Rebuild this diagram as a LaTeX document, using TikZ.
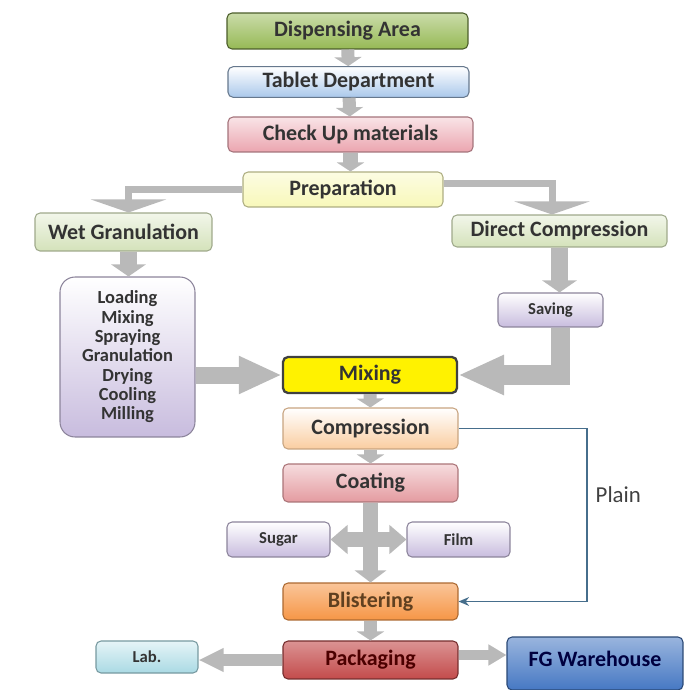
\documentclass[tikz,border=0pt]{standalone}
\usepackage{fontspec}
\setmainfont{Carlito}
\usepackage{tikz}
\usetikzlibrary{positioning,arrows.meta}
\definecolor{dispgreen}{RGB}{150,185,85}
\definecolor{tabblue}{RGB}{170,200,235}
\definecolor{checkpink}{RGB}{235,165,175}
\definecolor{prepyellow}{RGB}{248,248,185}
\definecolor{routegreen}{RGB}{212,226,186}
\definecolor{lavender}{RGB}{200,188,222}
\definecolor{peach}{RGB}{250,205,160}
\definecolor{coatpink}{RGB}{228,155,160}
\definecolor{blistorange}{RGB}{246,150,70}
\definecolor{packred}{RGB}{195,75,75}
\definecolor{labcyan}{RGB}{170,218,228}
\definecolor{fgblue}{RGB}{70,120,195}
\definecolor{plainblue}{RGB}{70,110,140}

\begin{document}
\begin{tikzpicture}[x=0.02cm, y=-0.02cm,
	box/.style={rounded corners=0.1cm, line width=0.6pt, text=black!80, font=\bfseries\fontsize{12.5}{14}\selectfont},
	small/.style={box, font=\bfseries\fontsize{9.5}{11}\selectfont},
	fat/.style={draw=gray!55, line join=miter},
	flowdown/.style={fat, line width=0.26cm, -{Triangle[width=0.54cm,length=0.18cm]}},
	branch/.style={fat, line width=0.14cm, -{Triangle[width=1.5cm,length=0.26cm]}},
	midflow/.style={fat, line width=0.36cm, -{Triangle[width=0.68cm,length=0.24cm]}},
	bigflow/.style={fat, line width=0.4cm, -{Triangle[width=0.74cm,length=0.92cm]}}]
				\useasboundingbox (0,0) rectangle (691,690);
				%%%nodes
				%top column
				\node[box, minimum width=4.82cm, minimum height=0.72cm, top color=dispgreen!50!white, bottom color=dispgreen, draw=dispgreen!50!black] at (347.5,31) (disp){Dispensing Area};
				\node[box, minimum width=4.82cm, minimum height=0.56cm, top color=white, bottom color=tabblue, draw=tabblue!60!black] at (348.5,82) (tab){Tablet Department};
				\node[box, minimum width=4.9cm, minimum height=0.7cm, top color=checkpink!30!white, bottom color=checkpink, draw=checkpink!70!black] at (350.5,134.5) (check){Check Up materials};
				\node[box, minimum width=4.0cm, minimum height=0.7cm, top color=prepyellow!40!white, bottom color=prepyellow, draw=prepyellow!70!black] at (343,189.5) (prep){Preparation};
				%two routes
				\node[box, minimum width=3.54cm, minimum height=0.76cm, top color=routegreen!30!white, bottom color=routegreen, draw=routegreen!75!black] at (123.5,232) (wet){Wet Granulation};
				\node[box, minimum width=4.3cm, minimum height=0.64cm, top color=routegreen!30!white, bottom color=routegreen, draw=routegreen!75!black] at (559.5,231) (direct){Direct Compression};
				\node[box, rounded corners=0.3cm, minimum width=2.7cm, minimum height=3.2cm, align=center, font=\bfseries\fontsize{10.5}{11}\selectfont, top color=white, bottom color=lavender, draw=lavender!70!black] at (127.5,357) (load){Loading\\Mixing\\Spraying\\Granulation\\Drying\\Cooling\\Milling};
				\node[small, minimum width=2.1cm, minimum height=0.68cm, top color=white, bottom color=lavender, draw=lavender!70!black] at (550.5,310) (saving){Saving};
				%main line
				\node[box, minimum width=3.48cm, minimum height=0.72cm, fill=yellow, draw=black!75, line width=1.3pt] at (370,375) (mix){Mixing};
				\node[box, minimum width=3.5cm, minimum height=0.82cm, top color=white, bottom color=peach, draw=peach!80!black] at (370.5,428.5) (comp){Compression};
				\node[box, minimum width=3.5cm, minimum height=0.76cm, top color=coatpink!35!white, bottom color=coatpink, draw=coatpink!75!black] at (370.5,483) (coat){Coating};
				\node[small, minimum width=2.06cm, minimum height=0.7cm, top color=white, bottom color=lavender, draw=lavender!70!black] at (278.5,539.5) (sugar){Sugar};
				\node[small, minimum width=2.06cm, minimum height=0.7cm, top color=white, bottom color=lavender, draw=lavender!70!black] at (458.5,539.5) (film){Film};
				\node[box, minimum width=3.5cm, minimum height=0.74cm, top color=blistorange!55!white, bottom color=blistorange, draw=blistorange!70!black, text=brown!50!black] at (370.5,601.5) (blist){Blistering};
				\node[box, minimum width=3.5cm, minimum height=0.76cm, top color=packred!60!white, bottom color=packred, draw=packred!60!black, text=red!30!black] at (370.5,660) (pack){Packaging};
				%ends
				\node[small, minimum width=2.04cm, minimum height=0.64cm, top color=labcyan!30!white, bottom color=labcyan, draw=labcyan!70!black] at (147,657) (lab){Lab.};
				\node[box, minimum width=3.52cm, minimum height=1.06cm, top color=fgblue!55!white, bottom color=fgblue, draw=fgblue!60!black, text=blue!25!black] at (595,663.5) (fg){\raisebox{4.8pt}{FG Warehouse}};
				\coordinate (pr) at (587,495);
				\node[right=0.05cm of pr, font=\fontsize{13}{15}\selectfont, text=black!75] (plain){Plain};
				%%%links
				%top column
				\draw[flowdown] (disp) -- (tab);
				\draw[flowdown] (tab) -- (check);
				\draw[flowdown, line width=0.3cm] (check) -- (prep.north -| check);
				%split
				\draw[branch] (prep.west) -| ([xshift=0.1cm]wet.north);
				\draw[branch] ([yshift=0.13cm]prep.east) -| ([xshift=-0.15cm]direct.north);
				\draw[midflow] ([xshift=0.1cm]wet.south) -- ([xshift=0.1cm]load.north -| wet.south);
				\draw[midflow] (direct.south) -- (direct.south |- saving.north);
				%into mixing
				\draw[bigflow, line width=0.34cm, -{Triangle[width=0.7cm,length=0.86cm]}] (load.east |- mix.west) -- (mix.west);
				\draw[bigflow] ([xshift=0.2cm]saving.south) |- (mix.east);
				%main line
				\draw[flowdown] (mix) -- (comp);
				\draw[flowdown] (comp) -- (coat);
				\draw[fat, line width=0.3cm, {Triangle[width=0.56cm,length=0.34cm]}-{Triangle[width=0.56cm,length=0.34cm]}] (sugar) -- (film);
				\draw[fat, line width=0.3cm, -{Triangle[width=0.62cm,length=0.24cm]}] (coat) -- (blist);
				\draw[flowdown] (blist) -- (pack);
				\draw[fat, line width=0.24cm, -{Triangle[width=0.44cm,length=0.5cm]}] (pack.west) -- (pack.west -| lab.east);
				\draw[fat, line width=0.2cm, -{Triangle[width=0.4cm,length=0.36cm]}] ([yshift=0.1cm]pack.east) -- ([yshift=0.1cm]pack.east -| fg.west);
				%plain route
				\draw[plainblue, line width=0.8pt, -{Stealth[length=6pt,width=5pt]}] (comp.east) -| (pr) |- (blist.east);
			\end{tikzpicture}
\end{document}
